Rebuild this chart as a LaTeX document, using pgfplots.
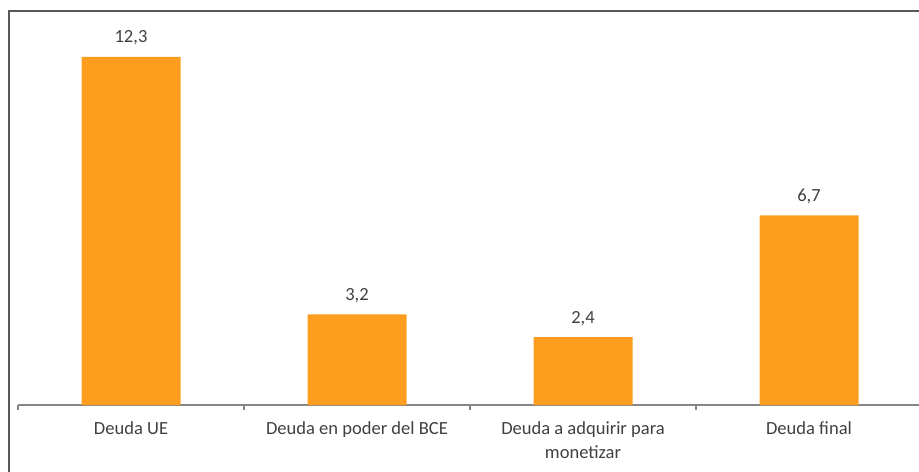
\documentclass[border=0pt]{standalone}
\usepackage{pgfplots}
\pgfplotsset{compat=1.18}
\usepackage{fontspec}
\setmainfont{Carlito}
\definecolor{barorange}{HTML}{FF9E1E}
\definecolor{txtgray}{HTML}{404040}
\definecolor{axgray}{HTML}{868686}
\definecolor{framegray}{HTML}{595959}
\begin{document}
\begin{tikzpicture}
% page area 919 x 471 px at 0.75pt per px
\useasboundingbox (0,0) rectangle (689.25pt,353.25pt);
\begin{scope}
\clip (0,0) rectangle (689.25pt,353.25pt);
% outer chart frame (only the left and top edges fall inside the page)
\draw[framegray, line width=1.3pt] (6.75pt,345pt) rectangle (710pt,-20pt);
\begin{axis}[
  at={(13.5pt,49.5pt)}, anchor=south west,
  scale only axis,
  width=678pt, height=276pt,
  xmin=-0.5, xmax=3.5, ymin=0, ymax=13,
  axis x line*=bottom, axis y line=none,
  axis line style={axgray, line width=0.9pt},
  x axis line style={-},
  tick align=outside,
  tick style={axgray, line width=0.9pt},
  xtick={0,1,2,3},
  major tick length=0pt,
  xticklabels={Deuda UE, Deuda en poder del BCE, Deuda a adquirir para\\monetizar, Deuda final},
  xticklabel style={anchor=north, align=center, inner sep=0pt, yshift=-12.5pt,
    font=\fontsize{13.9}{17.8}\selectfont, text=txtgray},
  extra x ticks={-0.5,0.5,1.5,2.5,3.5},
  extra x tick labels={},
  extra x tick style={major tick length=3.4pt},
  ytick=\empty,
  /pgf/number format/assume math mode=true,
  /pgf/number format/use comma,
  /pgf/number format/fixed,
  /pgf/number format/precision=1,
  /pgf/number format/fixed zerofill,
  nodes near coords,
  nodes near coords style={anchor=base, inner sep=0pt, yshift=10.5pt,
    font=\fontsize{13.9}{16}\selectfont, text=txtgray},
  clip=false,
]
\addplot[ybar, bar width=74.25pt, fill=barorange, draw=none]
  coordinates {(0,12.3) (1,3.2) (2,2.4) (3,6.7)};
\end{axis}
\end{scope}
\end{tikzpicture}
\end{document}
